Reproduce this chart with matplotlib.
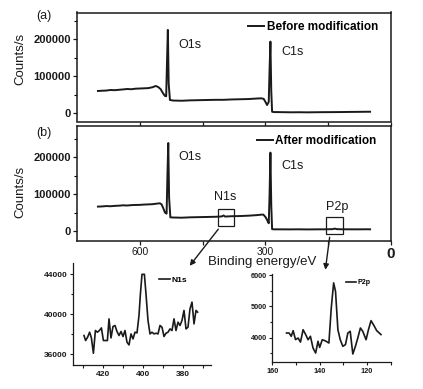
import numpy as np
import matplotlib
matplotlib.use('Agg')
import matplotlib.pyplot as plt
from matplotlib.patches import Rectangle, FancyArrowPatch

plt.rcParams['font.family'] = ['Liberation Sans', 'DejaVu Sans']

################################################################################################
# survey spectra (binding energy in eV, counts/s)

before_ev = [700, 690, 680, 670, 660, 650, 640, 630, 620, 610,
             600, 590, 580, 570, 562, 556, 550, 545, 540, 537,
             535, 533, 531, 528, 520, 500, 480, 460, 440, 420,
             400, 380, 360, 340, 320, 310, 304, 300, 296, 292,
             290, 288, 286, 284, 280, 260, 240, 220, 200, 180,
             160, 140, 120, 100, 80, 60, 50]
before_cps = [60300, 61000, 61500, 63000, 62500, 63500, 64500, 65700, 65000, 66500,
              67000, 67500, 68000, 70300, 73800, 71000, 65000, 55000, 47000, 46000,
              140000, 225000, 80000, 36000, 34500, 34000, 35000, 35500, 36000, 36500,
              36500, 37500, 38000, 38600, 40000, 40500, 39000, 31000, 22400, 31000,
              120000, 193500, 60000, 4300, 3500, 3200, 2800, 3000, 2700, 3000,
              3200, 3300, 3500, 3800, 4000, 4300, 4300]

after_ev = [700, 690, 680, 670, 660, 650, 640, 630, 620, 610,
            600, 590, 580, 570, 560, 552, 548, 544, 540, 536,
            534, 532, 530, 527, 520, 500, 480, 460, 440, 420,
            410, 404, 400, 396, 390, 380, 360, 340, 320, 312,
            305, 300, 296, 292, 290, 288, 286, 284, 280, 260,
            240, 220, 200, 180, 160, 140, 134, 130, 120, 100,
            80, 60, 50]
after_cps = [66000, 66500, 67500, 67000, 68000, 68500, 69500, 69000, 70000, 70500,
             70700, 71500, 72000, 72500, 74000, 75000, 72000, 62000, 50000, 47000,
             150000, 238000, 90000, 37000, 36500, 36000, 37000, 37500, 38000, 38500,
             39000, 39500, 42000, 39000, 39500, 40000, 40500, 41500, 43000, 44000,
             44500, 38000, 30000, 21000, 100000, 212000, 70000, 5000, 4600, 4500,
             4400, 4600, 4300, 4500, 4600, 5000, 6500, 5200, 4700, 4600,
             4500, 4700, 4600]

# high resolution windows
n1s_ev = [429.5, 428.7, 427.7, 426.7, 425.8, 424.8, 423.8, 422.8, 421.8, 420.8,
          419.8, 418.8, 417.8, 417, 416, 415, 414, 413, 412, 411,
          410, 409, 408, 407, 406, 405, 404, 403, 402, 401.3,
          400.5, 399.3, 398.5, 397.5, 396.5, 395.5, 394.5, 393.5, 392.5, 391.5,
          390.5, 389.5, 388.5, 387.5, 386.5, 385.5, 384.5, 383.5, 382.5, 381.5,
          380.5, 379.5, 378.5, 377.5, 376.5, 375.5, 374.5, 373.5, 372.7]
n1s_cps = [37870, 37370, 37700, 38200, 37630, 36100, 38370, 38200, 38370, 38630,
           37370, 37370, 37370, 39530, 37630, 38770, 38870, 38270, 37870, 38270,
           37770, 38370, 37200, 36930, 38030, 37530, 38200, 38130, 39870, 42000,
           43970, 43970, 42000, 39370, 38030, 38200, 38030, 38100, 38030, 38870,
           38700, 37770, 38100, 38200, 38530, 38370, 39530, 38370, 39200, 38870,
           39370, 40370, 38530, 38700, 40530, 41200, 39030, 40370, 40200]

p2p_ev = [154, 152.9, 152, 151.2, 150.2, 149.1, 148.1, 147, 145.9, 144.9,
          143.9, 142.8, 141.7, 140.7, 140, 138.9, 137.6, 136.1, 135.1, 134.1,
          133.3, 132.3, 131.3, 130.2, 129.1, 128.1, 127.1, 126, 124.9, 123.9,
          122.8, 121.8, 120.4, 119.4, 118.3, 116.9, 115.9, 114.1]
p2p_cps = [4150, 4150, 4045, 4225, 3940, 3990, 3860, 4255, 4100, 3935,
           4045, 3670, 3510, 3885, 3690, 3935, 3900, 3830, 4950, 5750,
           5480, 4255, 3935, 3725, 3780, 4150, 4205, 3480, 3725, 3990,
           4310, 4205, 3935, 4255, 4545, 4365, 4225, 4100]

survey_xticks = [600, 450, 300, 150, 0]
survey_xlabels = ['600', '', '300', '', '0']
survey_yticks = [0, 100000, 200000]
survey_yminor = [50000, 150000, 250000]
n1s_xticks = [420, 400, 380]
n1s_xminor = [430, 410, 390, 370]
n1s_yticks = [36000, 40000, 44000]
n1s_yminor = [38000, 42000]
p2p_xticks = [160, 140, 120]
p2p_xminor = [150, 130, 110]
p2p_yticks = [4000, 5000, 6000]
p2p_yminor = [3500, 4500, 5500]

################################################################################################

W, H = 423, 389
k = '#1a1a1a'

def box(l, t, r, b):
    # pixel box (from top left) -> figure fraction
    return [l/W, 1 - b/H, (r - l)/W, (b - t)/H]

def fpx(x, y):
    return (x/W, 1 - y/H)

fig = plt.figure(figsize=(W/100, H/100), dpi=100)

ax_a = fig.add_axes(box(77, 12.5, 391, 121.5))
ax_b = fig.add_axes(box(77, 126, 391, 241))

for ax in (ax_a, ax_b):
    ax.set_xlim(750, 0)
    ax.set_xticks(survey_xticks)
    ax.set_yticks(survey_yticks)
    ax.set_yticklabels([str(v) for v in survey_yticks], fontweight='bold', fontsize=8)
    ax.set_yticks(survey_yminor, minor=True)
    ax.tick_params(direction='out', length=3, width=0.9, pad=1.5, colors=k)
    ax.tick_params(which='minor', direction='out', length=2.2, width=0.8)
    for s in ax.spines.values():
        s.set_linewidth(1.1)
        s.set_color(k)

ax_a.set_ylim(-22000, 272000)
ax_b.set_ylim(-27000, 284000)

ax_a.plot(before_ev, before_cps, color=k, lw=1.4, label='Before modification')
ax_b.plot(after_ev, after_cps, color=k, lw=1.4, label='After modification')

ax_a.tick_params(axis='x', labelbottom=False)
ax_b.tick_params(axis='x', pad=1)
ax_b.set_xticklabels(survey_xlabels, fontsize=7.5)
xl = ax_b.get_xticklabels()
xl[-1].set_fontsize(11)
xl[-1].set_fontweight('bold')

ax_a.legend(frameon=False, loc='center right', bbox_to_anchor=(0.9586, 0.867),
            borderpad=0, borderaxespad=0, handlelength=1.35, handletextpad=0.2,
            prop={'weight': 'bold', 'size': 8.5})
ax_b.legend(frameon=False, loc='center right', bbox_to_anchor=(0.954, 0.870),
            borderpad=0, borderaxespad=0, handlelength=1.35, handletextpad=0.2,
            prop={'weight': 'bold', 'size': 8.5})

ax_a.text(509, 185000, 'O1s', fontsize=9, va='center', color=k)
ax_a.text(263, 166000, 'C1s', fontsize=9, va='center', color=k)
ax_b.text(509, 201000, 'O1s', fontsize=9, va='center', color=k)
ax_b.text(263, 176000, 'C1s', fontsize=9, va='center', color=k)
ax_b.text(422, 92000, 'N1s', fontsize=9, va='center', color=k)
ax_b.text(155.6, 65000, 'P2p', fontsize=9, va='center', color=k)

# boxes marking the zoomed windows
ax_b.add_patch(Rectangle((414, 14400), 374.5 - 414, 59800 - 14400, fill=False, lw=0.9, ec=k))
ax_b.add_patch(Rectangle((155.6, -9000), 115.8 - 155.6, 37000 + 9000, fill=False, lw=0.9, ec=k))

fig.text(*fpx(36, 16), '(a)', fontsize=9, va='center', color=k)
fig.text(*fpx(36, 133), '(b)', fontsize=9, va='center', color=k)
fig.text(*fpx(20, 59), 'Counts/s', fontsize=9.5, rotation=90, ha='center', va='center', color=k)
fig.text(*fpx(20, 191.5), 'Counts/s', fontsize=9.5, rotation=90, ha='center', va='center', color=k)
fig.text(*fpx(262, 262.3), 'Binding energy/eV', fontsize=9.5, ha='center', va='center', color=k)

################################################################################################
# insets

ax_n = fig.add_axes(box(73, 263, 211, 365))
ax_p = fig.add_axes(box(272.3, 274, 390.7, 362))

ax_n.plot(n1s_ev, n1s_cps, color=k, lw=1.2, label='N1s')
ax_n.set_xlim(435, 366)
ax_n.set_ylim(34930, 45100)
ax_n.set_xticks(n1s_xticks)
ax_n.set_xticks(n1s_xminor, minor=True)
ax_n.set_yticks(n1s_yticks)
ax_n.set_yticks(n1s_yminor, minor=True)

ax_p.plot(p2p_ev, p2p_cps, color=k, lw=1.2, label='P2p')
ax_p.set_xlim(160, 110)
ax_p.set_ylim(3224, 6035)
ax_p.set_xticks(p2p_xticks)
ax_p.set_xticks(p2p_xminor, minor=True)
ax_p.set_yticks(p2p_yticks)
ax_p.set_yticks(p2p_yminor, minor=True)

for ax, fs in ((ax_n, 6), (ax_p, 5.3)):
    ax.spines['top'].set_visible(False)
    ax.spines['right'].set_visible(False)
    for s in ('left', 'bottom'):
        ax.spines[s].set_linewidth(0.9)
        ax.spines[s].set_color(k)
    ax.tick_params(which='both', direction='out', width=0.8, colors=k, labelsize=fs, pad=1.5)
    ax.tick_params(which='major', length=2.5)
    ax.tick_params(which='minor', length=1.8)
    for lab in ax.get_xticklabels() + ax.get_yticklabels():
        lab.set_fontweight('bold')

ax_n.legend(frameon=False, loc='center right', bbox_to_anchor=(0.828, 0.833),
            borderpad=0, borderaxespad=0, handlelength=1.3, handletextpad=0.2,
            prop={'weight': 'bold', 'size': 6})
ax_p.legend(frameon=False, loc='center right', bbox_to_anchor=(0.829, 0.898),
            borderpad=0, borderaxespad=0, handlelength=1.4, handletextpad=0.2,
            prop={'weight': 'bold', 'size': 5})

# arrows from boxes to insets
for a, b in (((220, 227), (188, 268)), ((330, 234.5), (325, 272.5))):
    fig.add_artist(FancyArrowPatch(fpx(*a), fpx(*b), transform=fig.transFigure,
                                   arrowstyle='-|>', mutation_scale=8, lw=1.0, color=k))

fig.savefig('out.png', dpi=100)
